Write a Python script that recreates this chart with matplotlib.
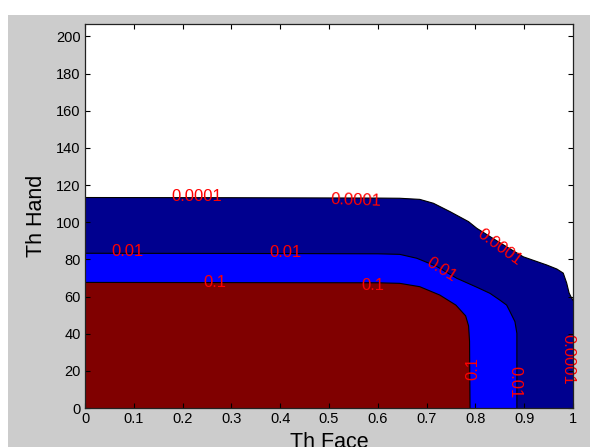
import numpy as np
import matplotlib
matplotlib.use("Agg")
import matplotlib.pyplot as plt
from matplotlib.patches import Rectangle

plt.rcParams['font.family'] = ['Liberation Sans', 'DejaVu Sans']

# contour levels and fill colours (jet-like, MATLAB contourf)
levels = ['0.0001', '0.01', '0.1']
fill_colors = ['#00008f', '#0000ff', '#800000']

# boundary of each level (Th Face, Th Hand)
face_0001 = [0.0, 0.30, 0.60, 0.645, 0.686, 0.714, 0.748, 0.786, 0.803, 0.85, 0.898,
             0.946, 0.967, 0.98, 0.987, 0.992, 0.996, 1.0]
hand_0001 = [113.3, 113.2, 113.0, 112.9, 112.3, 110.2, 105.7, 100.3, 96.7, 89.0, 81.4,
             77.0, 74.8, 72.6, 67.3, 61.9, 59.8, 58.0]

face_001 = [0.0, 0.30, 0.60, 0.645, 0.680, 0.720, 0.762, 0.803, 0.830, 0.850, 0.864,
            0.871, 0.881, 0.885, 0.885]
hand_001 = [83.3, 83.2, 83.0, 82.7, 80.6, 76.3, 69.8, 65.0, 61.7, 58.1, 55.4,
            51.8, 46.5, 40.2, 0.0]

face_01 = [0.0, 0.30, 0.60, 0.645, 0.686, 0.727, 0.760, 0.780, 0.786, 0.788, 0.789]
hand_01 = [67.6, 67.5, 67.4, 67.1, 65.3, 60.8, 55.4, 49.6, 44.2, 36.0, 0.0]

x_ticks = [0, 0.1, 0.2, 0.3, 0.4, 0.5, 0.6, 0.7, 0.8, 0.9, 1]
x_ticklabels = ['0', '0.1', '0.2', '0.3', '0.4', '0.5', '0.6', '0.7', '0.8', '0.9', '1']
y_ticks = list(range(0, 201, 20))

fig = plt.figure(figsize=(5.9, 4.47), dpi=100, facecolor='white')
fig.add_artist(Rectangle((8 / 590, 0), 1, 1 - 15 / 447, transform=fig.transFigure,
                         facecolor='#cccccc', edgecolor='none', zorder=-10))
ax = fig.add_axes([85 / 590, 39 / 447, 488 / 590, 384 / 447])
ax.set_facecolor('white')

bounds = [(face_0001, hand_0001), (face_001, hand_001), (face_01, hand_01)]
for (fx, hy), col in zip(bounds, fill_colors):
    px = [0.0] + list(fx) + [fx[-1]]
    py = [0.0] + list(hy) + [0.0]
    ax.fill(px, py, facecolor=col, edgecolor='none', zorder=1)
    ax.plot(fx, hy, color='black', lw=0.8, zorder=2)

# contour labels (clabel-like)
lab = dict(color='red', fontsize=12, ha='center', va='center', zorder=3)
ax.text(0.23, 113.8, levels[0], **lab)
ax.text(0.556, 112, levels[0], rotation=-2, **lab)
ax.text(0.85, 86.7, levels[0], rotation=-36, **lab)
ax.text(0.99, 26, levels[0], rotation=-90, **lab)
ax.text(0.088, 84, levels[1], **lab)
ax.text(0.41, 83.5, levels[1], **lab)
ax.text(0.73, 74.3, levels[1], rotation=-32, **lab)
ax.text(0.881, 14, levels[1], rotation=-90, **lab)
ax.text(0.266, 67.8, levels[2], **lab)
ax.text(0.59, 66, levels[2], **lab)
ax.text(0.795, 21, levels[2], rotation=90, **lab)

ax.set_xlim(0, 1)
ax.set_ylim(0, 206.7)
ax.set_xticks(x_ticks)
ax.set_xticklabels(x_ticklabels)
ax.set_yticks(y_ticks)
ax.tick_params(direction='in', top=True, right=True, length=3.6, width=0.8,
               labelsize=10.5, colors='black', pad=3)
for sp in ax.spines.values():
    sp.set_linewidth(0.9)
    sp.set_color('#222222')
    sp.set_zorder(5)

ax.set_xlabel('Th Face', fontsize=15.5)
ax.xaxis.set_label_coords(0.5, -0.062)
ax.set_ylabel('Th Hand', fontsize=15.5)
ax.yaxis.set_label_coords(-0.077, 0.5)

fig.savefig('out.png', dpi=100, facecolor=fig.get_facecolor())
